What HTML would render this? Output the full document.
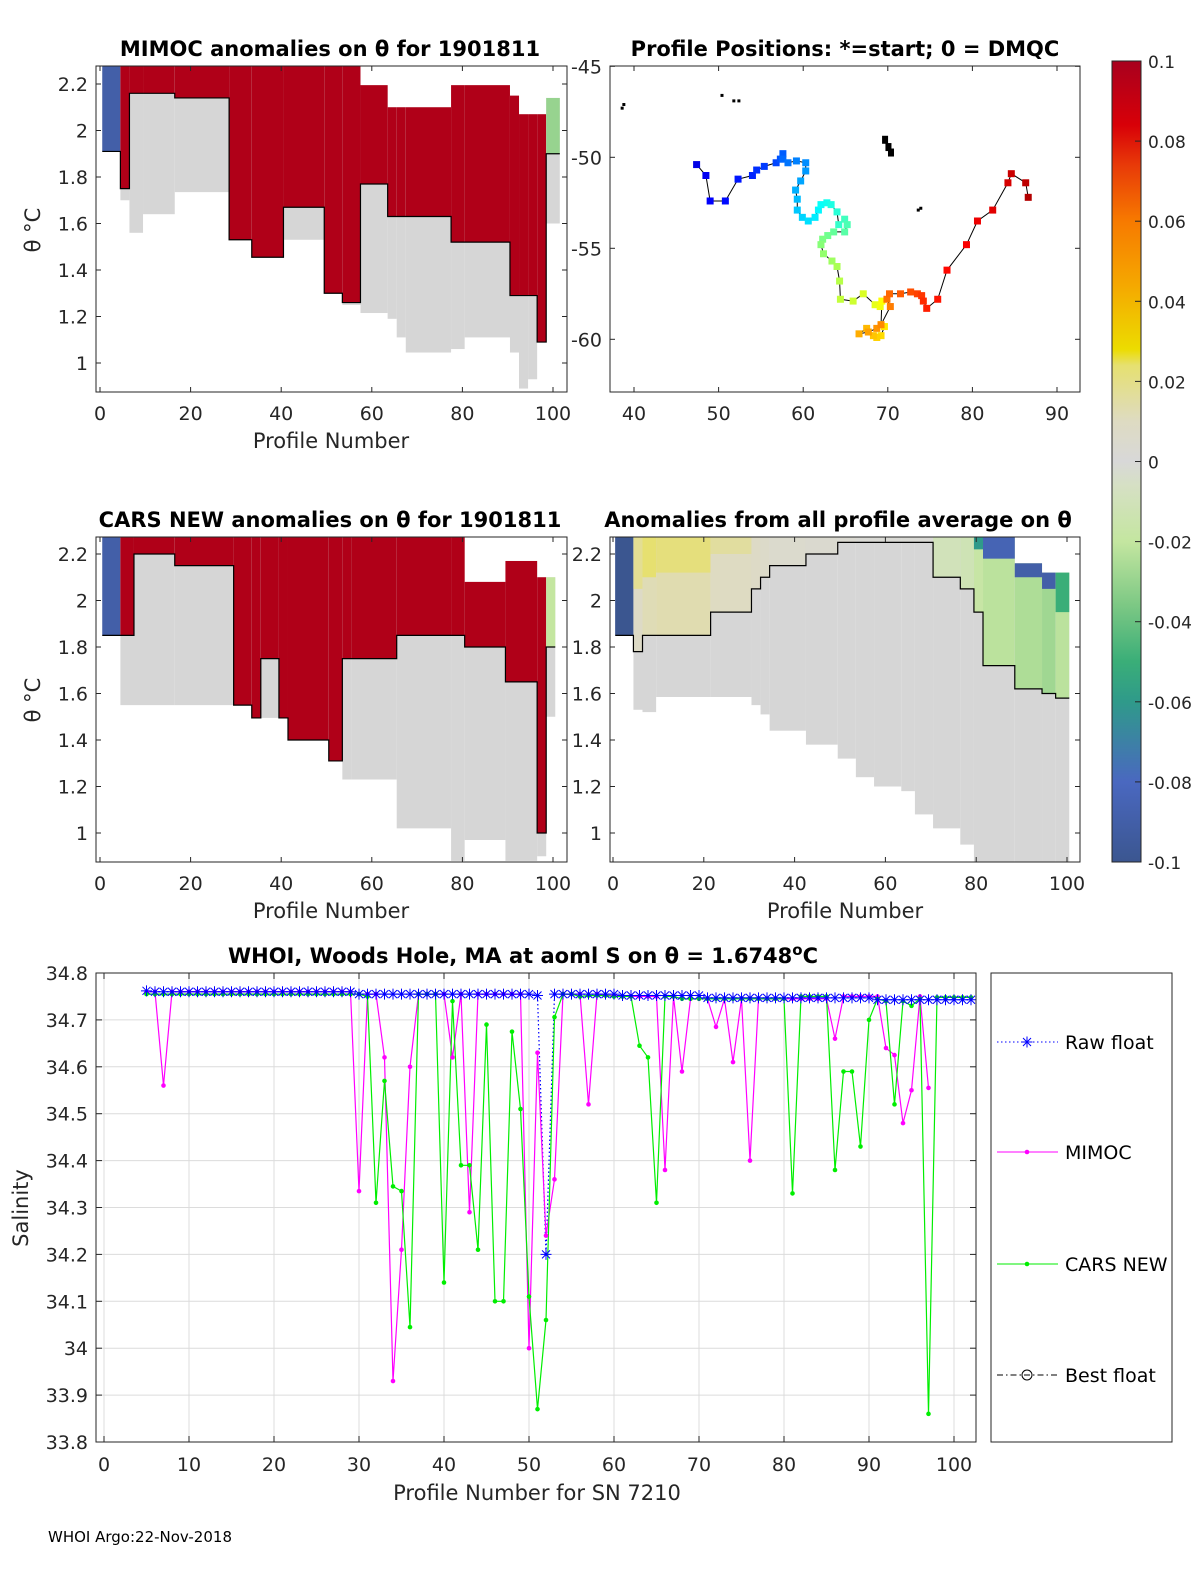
<!DOCTYPE html>
<html><head><meta charset="utf-8"><style>
body{margin:0;background:#fff}
svg{display:block;font-family:"DejaVu Sans","Liberation Sans",sans-serif}
</style></head><body>
<svg id="fig" width="1200" height="1575" viewBox="0 0 1200 1575" xmlns="http://www.w3.org/2000/svg">
<defs>
<clipPath id="cTL"><rect x="96" y="66" width="471" height="326"/></clipPath>
<clipPath id="cML"><rect x="96" y="537" width="471" height="325"/></clipPath>
<clipPath id="cMR"><rect x="610" y="537" width="470" height="325"/></clipPath>
<clipPath id="cMap"><rect x="610" y="66" width="470" height="326"/></clipPath>
<clipPath id="cB"><rect x="96" y="973" width="880" height="469"/></clipPath>
<linearGradient id="cbar" x1="0" y1="1" x2="0" y2="0">
<stop offset="0" stop-color="#3b5690"/><stop offset="0.1" stop-color="#4a68c0"/><stop offset="0.2" stop-color="#2f9a8a"/><stop offset="0.25" stop-color="#3aae78"/><stop offset="0.32" stop-color="#7cc884"/><stop offset="0.4" stop-color="#c4e6a0"/><stop offset="0.47" stop-color="#d6e0c4"/><stop offset="0.5" stop-color="#d8d8d8"/><stop offset="0.55" stop-color="#dedbc2"/><stop offset="0.62" stop-color="#e6e070"/><stop offset="0.64" stop-color="#ecdc00"/><stop offset="0.72" stop-color="#f5a800"/><stop offset="0.8" stop-color="#f77a00"/><stop offset="0.87" stop-color="#e83a08"/><stop offset="0.92" stop-color="#d80008"/><stop offset="1" stop-color="#a8001e"/>
</linearGradient>
</defs>
<g id="layer"></g>
</svg>
<script>
// ===== bottom chart data =====
const profiles=[5,6,7,8,9,10,11,12,13,14,15,16,17,18,19,20,21,22,23,24,25,26,27,28,29,30,31,32,33,34,35,36,37,38,39,40,41,42,43,44,45,46,47,48,49,50,51,52,53,54,55,56,57,58,59,60,61,62,63,64,65,66,67,68,69,70,71,72,73,74,75,76,77,78,79,80,81,82,83,84,85,86,87,88,89,90,91,92,93,94,95,96,97,98,99,100,101,102];
const rawFloat=[34.762,34.76,34.76,34.76,34.76,34.76,34.76,34.76,34.76,34.76,34.76,34.76,34.76,34.76,34.76,34.76,34.76,34.76,34.76,34.76,34.76,34.76,34.76,34.76,34.76,
34.755,34.755,34.755,34.755,34.755,34.755,34.755,34.755,34.755,34.755,34.755,34.755,34.755,34.755,34.755,34.755,34.755,34.755,34.755,34.755,34.755,
34.752,34.2,34.755,34.755,34.755,34.755,34.755,34.755,34.755,34.755,
34.752,34.752,34.752,34.752,34.752,34.752,34.752,34.752,34.752,34.752,
34.747,34.747,34.747,34.747,34.747,34.747,34.747,34.747,34.747,34.747,34.747,34.747,34.747,34.747,34.747,34.747,34.747,34.747,34.747,34.747,
34.743,34.743,34.743,34.743,34.743,34.743,34.743,34.743,34.743,34.743,34.743,34.743];
const mimoc=[34.76,34.76,34.56,34.76,34.76,34.76,34.76,34.76,34.76,34.76,34.76,34.76,34.76,34.76,34.76,34.76,34.76,34.76,34.76,34.76,34.76,34.76,34.76,34.76,34.76,
34.335,34.755,34.755,34.62,33.93,34.21,34.6,34.755,34.755,34.755,34.755,34.62,34.755,34.29,34.755,34.755,34.755,34.755,34.755,34.755,34.0,
34.63,34.24,34.36,34.755,34.755,34.755,34.52,34.755,34.752,34.752,
34.75,34.75,34.75,34.75,34.75,34.38,34.75,34.59,34.745,34.745,
34.745,34.685,34.745,34.61,34.745,34.40,34.745,34.745,34.745,34.745,34.745,34.745,34.745,34.745,34.745,34.66,34.75,34.75,34.75,34.75,
34.75,34.64,34.625,34.48,34.55,34.75,34.555,null,null,null,null,null];
const cars=[34.755,34.755,34.755,34.755,34.755,34.755,34.755,34.755,34.755,34.755,34.755,34.755,34.755,34.755,34.755,34.755,34.755,34.755,34.755,34.755,34.755,34.755,34.755,34.755,34.755,
34.755,34.75,34.31,34.57,34.345,34.335,34.045,34.755,34.755,34.755,34.14,34.74,34.39,34.39,34.21,34.69,34.10,34.10,34.675,34.51,34.11,
33.87,34.06,34.706,34.755,34.755,34.75,34.752,34.752,34.752,34.75,
34.75,34.75,34.645,34.62,34.31,34.75,34.75,34.745,34.745,34.745,
34.745,34.745,34.745,34.745,34.745,34.745,34.745,34.745,34.745,34.745,34.33,34.75,34.75,34.75,34.75,34.38,34.59,34.59,34.43,34.70,
34.745,34.74,34.52,34.74,34.73,34.745,33.86,34.748,34.748,34.748,34.748,34.748];
const xTicks=[0,10,20,30,40,50,60,70,80,90,100];
const yTicks=[33.8,33.9,34,34.1,34.2,34.3,34.4,34.5,34.6,34.7,34.8];
const yTickLabels=["33.8","33.9","34","34.1","34.2","34.3","34.4","34.5","34.6","34.7","34.8"];

// ===== section data =====
const tlSegStart=[1,5,7,10,17,29,34,41,50,54,58,64,66,68,78,81,91,93,95,97,99];
const tlSegEnd  =[5,7,10,17,29,34,41,50,54,58,64,66,68,78,81,91,93,95,97,99,102];
const tlSegTop  =[2.28,2.28,2.28,2.28,2.28,2.28,2.28,2.28,2.28,2.28,2.195,2.10,2.10,2.10,2.195,2.195,2.15,2.07,2.07,2.07,2.14];
const tlSegBot  =[1.91,1.70,1.56,1.64,1.735,1.53,1.455,1.53,1.30,1.25,1.215,1.19,1.11,1.045,1.06,1.11,1.045,0.89,0.93,1.09,1.60];
const tlBandBot =[1.91,1.75,2.16,2.16,2.14,1.53,1.455,1.67,1.30,1.26,1.77,1.63,1.63,1.63,1.52,1.52,1.29,1.29,1.29,1.09,1.90];
const tlBandVal =[-0.09,0.1,0.1,0.1,0.1,0.1,0.1,0.1,0.1,0.1,0.1,0.1,0.1,0.1,0.1,0.1,0.1,0.1,0.1,0.1,-0.03];

const mlSegStart=[1,5,8,17,30,34,36,40,42,51,54,56,66,78,81,90,97,99];
const mlSegEnd  =[5,8,17,30,34,36,40,42,51,54,56,66,78,81,90,97,99,101];
const mlSegTop  =[2.28,2.28,2.28,2.28,2.28,2.28,2.28,2.28,2.28,2.28,2.28,2.28,2.28,2.28,2.08,2.17,2.10,2.10];
const mlSegBot  =[1.85,1.55,1.55,1.55,1.55,1.495,1.495,1.495,1.40,1.31,1.23,1.23,1.02,0.88,0.97,0.88,0.90,1.50];
const mlBandBot =[1.85,1.85,2.20,2.15,1.55,1.495,1.75,1.45,1.40,1.31,1.75,1.75,1.85,1.85,1.80,1.65,1.00,1.80];
const mlBandVal =[-0.09,0.1,0.1,0.1,0.1,0.1,0.1,0.1,0.1,0.1,0.1,0.1,0.1,0.1,0.1,0.1,0.1,-0.02];

const mrSegStart=[1,5,7,10,22,31,33,35,43,50,54,58,64,67,71,77,80,82,89,95,98];
const mrSegEnd  =[5,7,10,22,31,33,35,43,50,54,58,64,67,71,77,80,82,89,95,98,101];
const mrSegTop  =[2.28,2.28,2.28,2.28,2.28,2.28,2.28,2.28,2.28,2.28,2.28,2.28,2.28,2.28,2.28,2.28,2.28,2.28,2.16,2.12,2.12];
const mrSegBot  =[1.85,1.53,1.52,1.585,1.585,1.55,1.51,1.44,1.38,1.32,1.24,1.20,1.18,1.08,1.02,0.95,0.875,0.875,0.875,0.875,0.875];
const mrBandBot =[1.85,1.78,1.85,1.85,1.95,2.05,2.10,2.15,2.20,2.25,2.25,2.25,2.25,2.25,2.10,2.05,1.95,1.72,1.62,1.60,1.58];
const mrBandVal =[-0.09,0.008,0.012,0.013,0.01,0.008,0.007,0.005,0.004,0.003,0.002,0.002,0.002,0.002,-0.01,-0.012,-0.018,-0.022,-0.025,-0.028,-0.022];
const mrTopBandBot=[1.85,2.05,2.1,2.12,2.2,2.28,2.28,2.28,2.28,2.28,2.28,2.28,2.28,2.28,2.28,2.28,2.22,2.18,2.1,2.05,1.95];
const mrTopBandVal=[-0.1,0.018,0.024,0.022,0.016,0.012,0.008,0.006,0.005,0.004,0.003,0.003,0.003,0.003,-0.012,-0.015,-0.06,-0.085,-0.09,-0.09,-0.05];

const thetaTicks=[1,1.2,1.4,1.6,1.8,2,2.2];
const thetaLabels=["1","1.2","1.4","1.6","1.8","2","2.2"];
const profTicks=[0,20,40,60,80,100];

// ===== map data =====
const trackLon=[47.4,48.5,49.0,50.8,52.3,54.0,54.5,55.4,56.8,57.3,57.6,57.6,58.2,59.2,60.3,60.3,59.7,59.1,59.3,59.3,59.9,60.6,61.4,61.8,62.1,62.8,63.3,64.0,64.2,64.9,65.2,64.9,63.6,62.9,62.3,62.1,62.4,63.4,64.0,64.3,64.4,65.9,67.1,68.5,69.1,69.3,69.2,69.6,69.2,68.7,68.3,67.5,66.6,67.7,68.7,69.2,70.3,69.9,70.2,71.5,72.7,73.5,74.0,74.2,74.6,75.9,77.0,79.3,80.6,82.4,84.2,84.6,86.3,86.6];
const trackLat=[-50.4,-51.0,-52.4,-52.4,-51.2,-51.0,-50.7,-50.5,-50.3,-50.1,-49.8,-50.1,-50.3,-50.2,-50.3,-50.75,-51.3,-51.8,-52.3,-52.9,-53.3,-53.5,-53.3,-52.9,-52.6,-52.5,-52.6,-53.0,-53.7,-53.4,-53.7,-54.1,-54.1,-54.3,-54.5,-54.8,-55.3,-55.7,-56.0,-56.8,-57.8,-57.9,-57.5,-58.1,-58.2,-57.9,-59.2,-59.3,-59.8,-59.9,-59.8,-59.4,-59.7,-59.6,-59.4,-59.2,-58.2,-57.8,-57.5,-57.5,-57.4,-57.5,-57.6,-57.9,-58.3,-57.8,-56.2,-54.8,-53.5,-52.9,-51.4,-50.9,-51.4,-52.2];
const landLon=[38.6,38.8,50.4,51.8,52.4,69.5,69.9,70.2,73.6,73.9];
const landLat=[-47.3,-47.1,-46.6,-46.9,-46.9,-48.9,-49.3,-49.6,-52.9,-52.8];
const mapXTicks=[40,50,60,70,80,90];
const mapYTicks=[-45,-50,-55,-60];

const NS="http://www.w3.org/2000/svg";
const L=document.getElementById('layer');
function mk(tag,attrs,parent){const e=document.createElementNS(NS,tag);for(const k in attrs)e.setAttribute(k,attrs[k]);(parent||L).appendChild(e);return e;}
function txt(s,x,y,size,anchor,extra){const e=mk('text',Object.assign({x:x,y:y,'font-size':size,'text-anchor':anchor||'middle',fill:'#262626'},extra||{}));e.textContent=s;return e;}

const cmStops=[[-0.1,[59,86,144]],[-0.08,[74,104,192]],[-0.06,[47,154,138]],[-0.05,[58,174,120]],[-0.036,[124,200,132]],[-0.02,[196,230,160]],[-0.006,[214,224,196]],[0,[216,216,216]],[0.01,[222,219,194]],[0.024,[230,224,112]],[0.028,[236,220,0]],[0.044,[245,168,0]],[0.06,[247,122,0]],[0.074,[232,58,8]],[0.084,[216,0,8]],[0.1,[176,0,24]]];
function cmap(v){v=Math.max(-0.1,Math.min(0.1,v));for(let i=1;i<cmStops.length;i++){if(v<=cmStops[i][0]){const a=cmStops[i-1],b=cmStops[i];const t=(v-a[0])/(b[0]-a[0]);const c=a[1].map((x,j)=>Math.round(x+(b[1][j]-x)*t));return 'rgb('+c.join(',')+')';}}return 'rgb(176,0,24)';}

function section(name,clip,x0,sx,yRef,starts,ends,tops,bots,bandBot,bandVal,topBot,topVal){
  const g=mk('g',{'clip-path':'url(#'+clip+')'});
  
  
  const px=p=>x0+p*sx, py=t=>yRef+(2.2-t)*232.5;
  let contour=[];
  for(let i=0;i<starts.length;i++){
    const xa=px(starts[i]-0.5), xb=px(ends[i]-0.5);
    const r=mk('rect',{x:xa,y:py(tops[i]),width:xb-xa,height:py(bots[i])-py(tops[i]),fill:'#d6d6d6'},g);
    
    
    const hb=Math.max(bandBot[i],bots[i]);
    const b=mk('rect',{x:xa,y:py(tops[i]),width:xb-xa,height:Math.max(0,py(hb)-py(tops[i])),fill:cmap(bandVal[i])},g);
    
    
    if(topBot){const tb=mk('rect',{x:xa,y:py(tops[i]),width:xb-xa,height:Math.max(0,py(Math.max(topBot[i],bots[i]))-py(tops[i])),fill:cmap(topVal[i])},g);
      
      }
    contour.push(xa+','+py(hb),xb+','+py(hb));
  }
  const c=mk('polyline',{points:contour.join(' '),fill:'none',stroke:'#000','stroke-width':1.2},g);
  
  
}

function axesBox(name,x,y,w,h){const r=mk('rect',{x:x,y:y,width:w,height:h,fill:'none',stroke:'#262626','stroke-width':1});
  
  }

function thetaAxes(bx,by,bw,bh,x0,sx,yRef,labelX,anchor){
  thetaTicks.forEach((t,i)=>{const y=yRef+(2.2-t)*232.5;
    mk('line',{x1:bx,x2:bx+5,y1:y,y2:y,stroke:'#262626'});mk('line',{x1:bx+bw-5,x2:bx+bw,y1:y,y2:y,stroke:'#262626'});
    const e=txt(thetaLabels[i],labelX,y+7,19,anchor);
    
    });
  profTicks.forEach(p=>{const x=x0+p*sx;
    mk('line',{x1:x,x2:x,y1:by+bh-5,y2:by+bh,stroke:'#262626'});mk('line',{x1:x,x2:x,y1:by,y2:by+5,stroke:'#262626'});
    const e=txt(String(p),x,by+bh+28,19);
    
    });
}

section('mimoc','cTL',100,4.53,84,tlSegStart,tlSegEnd,tlSegTop,tlSegBot,tlBandBot,tlBandVal);
axesBox('mimoc-axes',96,66,471,326);
thetaAxes(96,66,471,326,100,4.53,84,88,'end');
section('cars','cML',100,4.53,554,mlSegStart,mlSegEnd,mlSegTop,mlSegBot,mlBandBot,mlBandVal);
axesBox('cars-axes',96,537,471,325);
thetaAxes(96,537,471,325,100,4.53,554,88,'end');
section('average','cMR',613,4.54,554,mrSegStart,mrSegEnd,mrSegTop,mrSegBot,mrBandBot,mrBandVal,mrTopBandBot,mrTopBandVal);
axesBox('average-axes',610,537,470,325);
thetaAxes(610,537,470,325,613,4.54,554,602,'end');

(function(){
  const lx=lon=>634+(lon-40)*8.46, ly=lat=>157.3+(-50-lat)*18.2;
  const g=mk('g',{'clip-path':'url(#cMap)'});
  
  
  mk('polyline',{points:trackLon.map((v,i)=>lx(v)+','+ly(trackLat[i])).join(' '),fill:'none',stroke:'#000','stroke-width':1},g);
  const n=trackLon.length;
  function jet(t){const r=Math.min(1,Math.max(0,1.5-Math.abs(4*t-3))),gg=Math.min(1,Math.max(0,1.5-Math.abs(4*t-2))),b=Math.min(1,Math.max(0,1.5-Math.abs(4*t-1)));return 'rgb('+[r,gg,b].map(v=>Math.round(v*255)).join(',')+')';}
  trackLon.forEach((v,i)=>{const t=0.1+0.85*i/(n-1);
    const s=mk('rect',{x:lx(v)-3.5,y:ly(trackLat[i])-3.5,width:7,height:7,fill:jet(t)},g);
    
    });
  landLon.forEach((v,i)=>{const d=mk('rect',{x:lx(v)-1.5,y:ly(landLat[i])-1.5,width:i>=5&&i<=7?6:3,height:i>=5&&i<=7?8:3,fill:'#000'},g);
    
    });
  axesBox('map-axes',610,66,470,326);
  mapXTicks.forEach(v=>{const x=lx(v);mk('line',{x1:x,x2:x,y1:387,y2:392,stroke:'#262626'});mk('line',{x1:x,x2:x,y1:66,y2:71,stroke:'#262626'});
    const e=txt(String(v),x,420,19);
    
    });
  mapYTicks.forEach(v=>{const y=ly(v);mk('line',{x1:610,x2:615,y1:y,y2:y,stroke:'#262626'});mk('line',{x1:1075,x2:1080,y1:y,y2:y,stroke:'#262626'});
    const e=txt(String(v),602,y+7,19,'end');
    
    });
})();

(function(){
  const r=mk('rect',{x:1112,y:61,width:29,height:801,fill:'url(#cbar)',stroke:'#262626'});
  
  
  const cbVals=[0.1,0.08,0.06,0.04,0.02,0,-0.02,-0.04,-0.06,-0.08,-0.1];
  const cbLabels=["0.1","0.08","0.06","0.04","0.02","0","-0.02","-0.04","-0.06","-0.08","-0.1"];
  cbVals.forEach((v,i)=>{const y=61+(0.1-v)/0.2*801;
    mk('line',{x1:1135,x2:1141,y1:y,y2:y,stroke:'#262626'});
    const e=txt(cbLabels[i],1148,y+7,17,'start');
    
    });
})();

[['MIMOC anomalies on θ  for 1901811',330,56,'mimoc-title'],['Profile Positions: *=start; 0 = DMQC',845,56,'map-title'],
 ['CARS NEW anomalies on θ for 1901811',330,527,'cars-title'],['Anomalies from all profile average on θ',838,527,'average-title']].forEach(a=>{
  const e=txt(a[0],a[1],a[2],21,'middle',{'font-weight':'bold',fill:'#000'});
  
  });
[['Profile Number',331,448,'mimoc-x-title'],['Profile Number',331,918,'cars-x-title'],['Profile Number',845,918,'average-x-title']].forEach(a=>{
  const e=txt(a[0],a[1],a[2],21);
  
  });
[[230,'mimoc-y-title'],[700,'cars-y-title']].forEach(a=>{
  const e=txt('θ °C',40,a[0],21,'middle',{transform:'rotate(-90 40 '+a[0]+')'});
  
  });

(function(){
  const xp=p=>104+p*8.5, yp=v=>973+(34.8-v)*469;
  const bg=mk('rect',{x:96,y:973,width:880,height:469,fill:'#fff'});
  
  
  xTicks.forEach(t=>{mk('line',{x1:xp(t),x2:xp(t),y1:973,y2:1442,stroke:'#dcdcdc'});
    mk('line',{x1:xp(t),x2:xp(t),y1:1436,y2:1442,stroke:'#262626'});mk('line',{x1:xp(t),x2:xp(t),y1:973,y2:979,stroke:'#262626'});
    const e=txt(String(t),xp(t),1471,19);
    
    });
  yTicks.forEach((t,i)=>{mk('line',{x1:96,x2:976,y1:yp(t),y2:yp(t),stroke:'#dcdcdc'});
    mk('line',{x1:96,x2:102,y1:yp(t),y2:yp(t),stroke:'#262626'});mk('line',{x1:970,x2:976,y1:yp(t),y2:yp(t),stroke:'#262626'});
    const e=txt(yTickLabels[i],88,yp(t)+7,19,'end');
    
    });
  const g=mk('g',{'clip-path':'url(#cB)'});
  function series(vals,color,name,dash){
    const pts=[];vals.forEach((v,i)=>{if(v!==null)pts.push(xp(profiles[i])+','+yp(v));});
    const l=mk('polyline',{points:pts.join(' '),fill:'none',stroke:color,'stroke-width':1.2},g);
    if(dash)l.setAttribute('stroke-dasharray',dash);
    
    
  }
  series(rawFloat,'#0000ff','raw-float','1.5,2.5');
  series(mimoc,'#ff00ff','mimoc');
  series(cars,'#00ee00','cars-new');
  mimoc.forEach((v,i)=>{if(v===null)return;const c=mk('circle',{cx:xp(profiles[i]),cy:yp(v),r:2.3,fill:'#ff00ff'},g);
    
    });
  cars.forEach((v,i)=>{const c=mk('circle',{cx:xp(profiles[i]),cy:yp(v),r:2.3,fill:'#00ee00'},g);
    
    });
  function star(x,y,parent){const s=5.5,d=4;return mk('path',{d:`M${x-s},${y}H${x+s}M${x},${y-s}V${y+s}M${x-d},${y-d}L${x+d},${y+d}M${x-d},${y+d}L${x+d},${y-d}`,stroke:'#0000ff','stroke-width':1,fill:'none'},parent);}
  rawFloat.forEach((v,i)=>{const s=star(xp(profiles[i]),yp(v),g);
    
    });
  axesBox('salinity-axes',96,973,880,469);
  const t=txt('WHOI, Woods Hole, MA at aoml S on θ = 1.6748',523,963,21,'middle',{'font-weight':'bold',fill:'#000'});
  const ts=mk('tspan',{dy:-8,'font-size':15},t);ts.textContent='o';
  const tc=mk('tspan',{dy:8},t);tc.textContent='C';
  
  
  const xl=txt('Profile Number for SN 7210',537,1500,21);
  
  
  const yl=txt('Salinity',28,1208,21,'middle',{transform:'rotate(-90 28 1208)'});
  
  
  const lg=mk('g',{});
  
  
  mk('rect',{x:991,y:973,width:181,height:469,fill:'#fff',stroke:'#262626'},lg);
  const items=[['Raw float',1042,'#0000ff','1.5,2.5','star'],['MIMOC',1152,'#ff00ff','','dot'],['CARS NEW',1264,'#00ee00','','dot'],['Best float',1375,'#000','6,3,1.5,3','circ']];
  items.forEach(it=>{const e=mk('g',{},lg);
    
    
    const ln=mk('line',{x1:997,x2:1058,y1:it[1],y2:it[1],stroke:it[2],'stroke-width':1},e);
    if(it[3])ln.setAttribute('stroke-dasharray',it[3]);
    if(it[4]==='star')star(1027,it[1],e);
    if(it[4]==='dot')mk('circle',{cx:1027,cy:it[1],r:2.3,fill:it[2]},e);
    if(it[4]==='circ')mk('circle',{cx:1027,cy:it[1],r:5,fill:'none',stroke:'#000'},e);
    const tt=txt(it[0],1065,it[1]+7,19,'start',{fill:'#000'});e.appendChild(tt);});
  const ft=txt('WHOI Argo:22-Nov-2018',48,1542,15,'start',{fill:'#000'});
  
  
})();
</script>
</body></html>
